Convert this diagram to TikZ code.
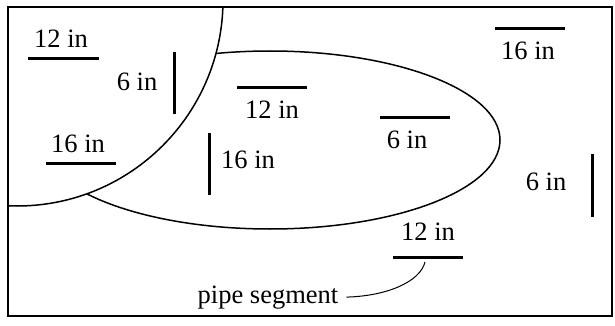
\documentclass[tikz,border=0pt]{standalone}
\usepackage{fontspec}
\setmainfont{Liberation Serif}
\begin{document}
\begin{tikzpicture}[x=1pt, y=-1pt,
    lbl/.style={font=\fontsize{26.5}{31}\selectfont, inner sep=0pt, anchor=base},
    seg/.style={line width=3pt},
    outline/.style={line width=1.5pt}]
    \useasboundingbox (0,0) rectangle (615,326);
    % ellipse partly hidden by the circle
    \begin{scope}
        \clip (8,7) rectangle (612,316);
        \draw[outline] (270,140) ellipse [x radius=230, y radius=89];
        \draw[outline, fill=white] (17,0) circle [radius=206];
    \end{scope}
    \draw[line width=1.6pt] (8,7) rectangle (612,316);
    % segments
    \draw[seg] (28,59) -- (99,59);
    \draw[seg] (174,52) -- (174,114);
    \draw[seg] (46,163) -- (116,163);
    \draw[seg] (237,88) -- (307,88);
    \draw[seg] (209,133) -- (209,195);
    \draw[seg] (380,118) -- (450,118);
    \draw[seg] (495,29) -- (565,29);
    \draw[seg] (592,154) -- (592,217);
    \draw[seg] (393,257) -- (463,257);
    \coordinate (tip) at (425,262);
    % labels
    \node[lbl] (l12a) at (61,48) {12 in};
    \node[lbl] (l6a) at (137,91) {6 in};
    \node[lbl] (l16a) at (78,152) {16 in};
    \node[lbl] (l12b) at (272,118) {12 in};
    \node[lbl, anchor=base west] (l16b) at (221,168) {16 in};
    \node[lbl] (l6b) at (407,148) {6 in};
    \node[lbl] (l16c) at (528,60) {16 in};
    \node[lbl] (l6c) at (546,190) {6 in};
    \node[lbl] (l12c) at (428,240) {12 in};
    \node[lbl] (pipelbl) at (268,303) {pipe segment};
    \draw[line width=1pt] ([xshift=8pt]pipelbl.east) .. controls +(40,-1) and +(-5,20) .. (tip);
\end{tikzpicture}
\end{document}
